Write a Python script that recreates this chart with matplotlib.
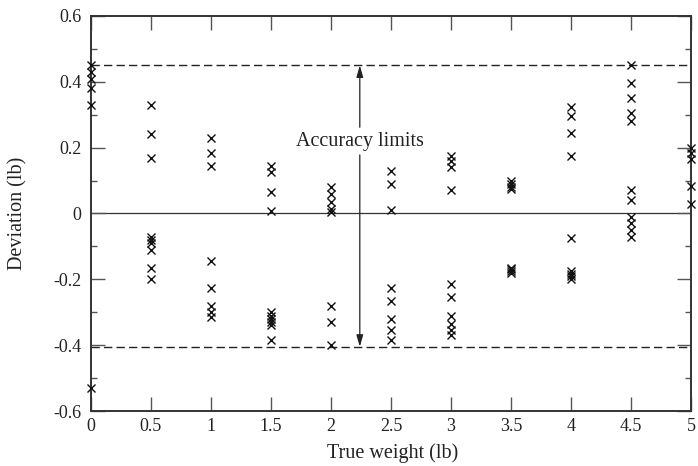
import numpy as np
import matplotlib
matplotlib.use("Agg")
import matplotlib.pyplot as plt
from matplotlib.ticker import FuncFormatter, MultipleLocator

plt.rcParams.update({
    "font.family": "serif",
    "font.serif": ["Liberation Serif", "DejaVu Serif"],
    "axes.unicode_minus": False,
})

# ---- data (deviation readings at each true weight) --------------------------
weights = [0.0, 0.5, 1.0, 1.5, 2.0, 2.5, 3.0, 3.5, 4.0, 4.5, 5.0]
deviations = [
    [0.45, 0.43, 0.41, 0.38, 0.33, -0.53],
    [0.33, 0.24, 0.17, -0.07, -0.08, -0.09, -0.11, -0.165, -0.20],
    [0.23, 0.185, 0.145, -0.145, -0.225, -0.28, -0.30, -0.315],
    [0.145, 0.125, 0.065, 0.008, -0.30, -0.31, -0.32, -0.33, -0.34, -0.385],
    [0.08, 0.06, 0.035, 0.015, 0.005, -0.28, -0.33, -0.40],
    [0.13, 0.09, 0.01, -0.225, -0.265, -0.32, -0.355, -0.385],
    [0.175, 0.16, 0.14, 0.07, -0.215, -0.255, -0.31, -0.335, -0.355, -0.37],
    [0.10, 0.09, 0.08, 0.075, -0.165, -0.17, -0.175, -0.18],
    [0.325, 0.295, 0.245, 0.175, -0.075, -0.175, -0.185, -0.19, -0.20],
    [0.45, 0.395, 0.35, 0.305, 0.28, 0.07, 0.04, -0.01, -0.03, -0.05, -0.07],
    [0.20, 0.185, 0.165, 0.085, 0.03],
]
upper_limit = 0.45
lower_limit = -0.405
label_x = 2.24

xs = np.concatenate([[w] * len(d) for w, d in zip(weights, deviations)])
ys = np.concatenate(deviations)

INK = "#222222"

fig = plt.figure(figsize=(6.98, 4.66), dpi=100)
ax = fig.add_axes([91 / 698, 1 - 411 / 466, 600 / 698, 395 / 466])

ax.axhline(0, color="#333333", lw=0.9, zorder=1)
ax.axhline(upper_limit, color=INK, lw=1.0, ls=(0, (6, 3)), zorder=1)
ax.axhline(lower_limit, color=INK, lw=1.0, ls=(0, (6, 3)), zorder=1)

ax.plot(xs, ys, ls="none", marker="x", ms=6, mew=1.0, color="#111111",
        clip_on=False, zorder=3)

# accuracy limits label with arrows
ax.text(label_x, 0.22, "Accuracy limits", ha="center", va="center",
        fontsize=14.5, color=INK)
arrow_kw = dict(arrowstyle="-|>,head_length=0.7,head_width=0.2",
                color=INK, lw=0.9, shrinkA=0, shrinkB=0)
ax.annotate("", xy=(label_x, upper_limit), xytext=(label_x, 0.262),
            arrowprops=arrow_kw)
ax.annotate("", xy=(label_x, lower_limit), xytext=(label_x, 0.178),
            arrowprops=arrow_kw)

ax.set_xlim(0, 5)
ax.set_ylim(-0.6, 0.6)
ax.xaxis.set_major_locator(MultipleLocator(0.5))
ax.yaxis.set_major_locator(MultipleLocator(0.2))
ax.yaxis.set_minor_locator(MultipleLocator(0.1))
fmt = FuncFormatter(lambda v, p: "0" if abs(v) < 1e-9 else f"{v:g}")
ax.xaxis.set_major_formatter(fmt)
ax.yaxis.set_major_formatter(fmt)

ax.tick_params(axis="both", which="both", direction="in", colors="#555555",
               labelcolor=INK, width=1.0, labelsize=13)
ax.tick_params(axis="x", which="major", length=10, top=True, pad=5)
ax.tick_params(axis="y", which="major", length=10, right=True, pad=7)
ax.tick_params(axis="y", which="minor", length=4.5, right=True)

for sp in ax.spines.values():
    sp.set_linewidth(1.4)
    sp.set_color("#333333")

ax.set_xlabel("True weight (lb)", fontsize=14.5, color=INK, va="center")
ax.xaxis.set_label_coords(0.502, -0.106)
ax.set_ylabel("Deviation (lb)", fontsize=14.5, color=INK, va="center")
ax.yaxis.set_label_coords(-0.122, 0.5)

fig.savefig("out.png", dpi=100)
